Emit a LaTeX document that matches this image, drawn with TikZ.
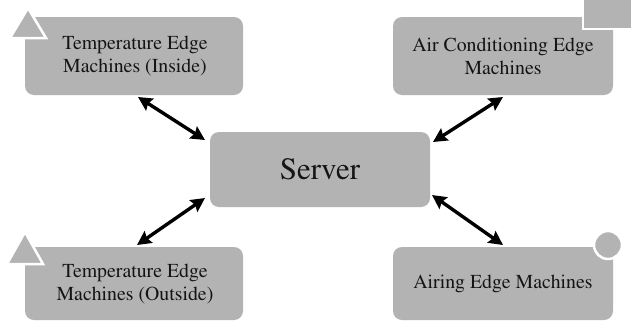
\documentclass[tikz,border=0pt]{standalone}
\usepackage[T1]{fontenc}
\usetikzlibrary{arrows.meta,shapes.geometric}
\definecolor{boxgray}{RGB}{179,179,179}
\definecolor{txt}{RGB}{20,20,20}
\begin{document}
\begin{tikzpicture}[x=1pt,y=-1pt,
  box/.style={fill=boxgray,rounded corners=9pt,draw=none},
  cornermark/.style={fill=boxgray,draw=white,line width=2.5pt},
  lbl/.style={font=\fontfamily{ptm}\fontsize{19.8}{23}\selectfont,text=txt,align=center},
  link/.style={line width=3.4pt,{Stealth[length=14pt,width=14pt,inset=2pt]}-{Stealth[length=14pt,width=14pt,inset=2pt]}}]
\useasboundingbox (0,0) rectangle (631,322);
% boxes
\draw[box] (25,17) rectangle (243,95);
\draw[box] (393,17) rectangle (613,95);
\draw[box] (210,132) rectangle (430,207);
\draw[box] (25,247) rectangle (243,320);
\draw[box] (393,247) rectangle (613,320);
% marks
\draw[cornermark] (28,8) -- (46,38) -- (10,38) -- cycle;
\draw[cornermark] (583,-3) rectangle (634,29);
\draw[cornermark] (25,232) -- (43,264) -- (7,264) -- cycle;
\draw[cornermark] (608,245) circle (14);
% labels
\node[lbl] (tl) at (135,56) {Temperature Edge\\Machines (Inside)};
\node[lbl] (tr) at (503,56) {Air Conditioning Edge\\Machines};
\node[font=\fontfamily{ptm}\fontsize{31}{36}\selectfont,text=txt] (srv) at (320,169.5) {Server};
\node[lbl] (bl) at (135,284) {Temperature Edge\\Machines (Outside)};
\node[lbl] (br) at (503,284) {Airing Edge Machines};
% arrow ends
\coordinate (a1) at (138,97);  \coordinate (b1) at (205,140);
\coordinate (a2) at (503,97);  \coordinate (b2) at (433,142);
\coordinate (a3) at (137,245); \coordinate (b3) at (205,198);
\coordinate (a4) at (503,245); \coordinate (b4) at (432,195);
\draw[link] (a1) -- (b1);
\draw[link] (a2) -- (b2);
\draw[link] (a3) -- (b3);
\draw[link] (a4) -- (b4);
\end{tikzpicture}
\end{document}
